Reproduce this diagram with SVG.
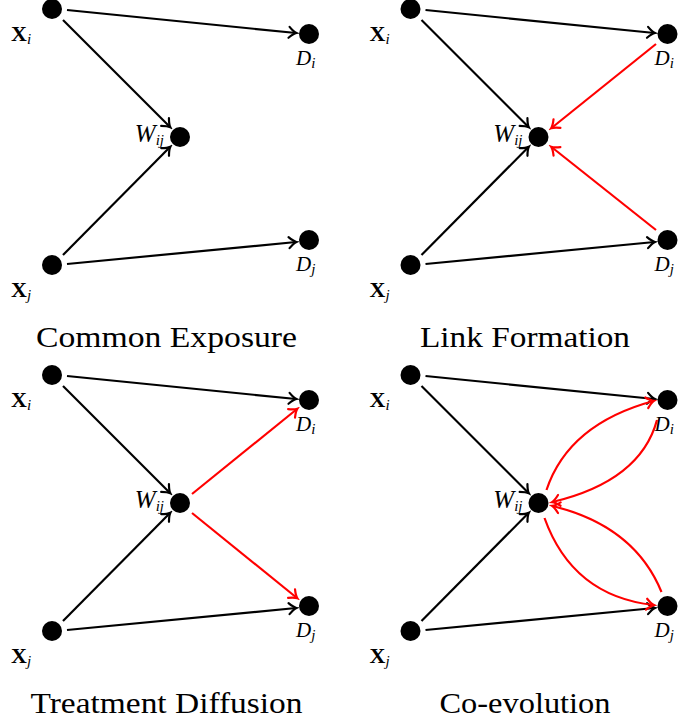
<svg xmlns="http://www.w3.org/2000/svg" width="678" height="726" viewBox="0 0 678 726">
<style>
.node{fill:#000}
.e{fill:none;stroke:#000;stroke-width:2.2;marker-end:url(#ab)}
.r{fill:none;stroke:#ff0000;stroke-width:2.2;marker-end:url(#ar)}
.lb{font-family:"Liberation Serif","Times New Roman","DejaVu Serif",serif;font-size:21px;fill:#000}
.bf{font-weight:bold;font-size:22px}
.it{font-style:italic}
.sub{font-size:15px;font-style:italic;font-weight:normal}
.cap{font-family:"Liberation Serif","Times New Roman","DejaVu Serif",serif;font-size:30px;fill:#000;text-anchor:middle}
</style>
<defs>
<marker id="ab" markerUnits="userSpaceOnUse" markerWidth="14" markerHeight="14" viewBox="-9 -7 11 14" refX="0" refY="0" orient="auto">
<path d="M-7,-5.5 Q-2.5,-1 0.5,0 Q-2.5,1 -7,5.5" fill="none" stroke="#000" stroke-width="2.2" stroke-linecap="round"/>
</marker>
<marker id="ar" markerUnits="userSpaceOnUse" markerWidth="14" markerHeight="14" viewBox="-9 -7 11 14" refX="0" refY="0" orient="auto">
<path d="M-7,-5.5 Q-2.5,-1 0.5,0 Q-2.5,1 -7,5.5" fill="none" stroke="#ff0000" stroke-width="2.2" stroke-linecap="round"/>
</marker>
<g id="base-edges">
<path class="e" d="M67,10 L296,33"/>
<path class="e" d="M63,20 L170,127"/>
<path class="e" d="M63,255 L170,147"/>
<path class="e" d="M67,264 L296,242"/>
</g>
<g id="base-labels">
<text class="lb" x="11" y="41"><tspan class="bf">X</tspan><tspan class="sub" dy="3">i</tspan></text>
<text class="lb" x="11" y="297"><tspan class="bf">X</tspan><tspan class="sub" dy="3">j</tspan></text>
<text class="lb it" x="296" y="65">D<tspan class="sub" dy="3">i</tspan></text>
<text class="lb it" x="296" y="271">D<tspan class="sub" dy="3">j</tspan></text>
<text class="lb it" x="164" y="142" text-anchor="end" style="font-size:25px">W<tspan class="sub" dy="3">ij</tspan></text>
</g>
</defs>

<!-- Panel 1: Common Exposure -->
<g id="panel-common-exposure">
<g id="p1-connectors"><use href="#base-edges"/></g>
<g id="p1-Xi"><circle class="node" cx="52" cy="9" r="10"/></g>
<g id="p1-Xj"><circle class="node" cx="52" cy="265" r="10"/></g>
<g id="p1-Wij"><circle class="node" cx="180" cy="137" r="10"/></g>
<g id="p1-Di"><circle class="node" cx="309" cy="34" r="10"/></g>
<g id="p1-Dj"><circle class="node" cx="309" cy="240" r="10"/></g>
<use href="#base-labels"/>
<text class="cap" x="166.5" y="347" textLength="261" lengthAdjust="spacingAndGlyphs">Common Exposure</text>
</g>

<!-- Panel 2: Link Formation -->
<g id="panel-link-formation" transform="translate(358.5,0)">
<g id="p2-connectors">
<use href="#base-edges"/>
<path class="r" d="M297.5,44 L193,128"/>
<path class="r" d="M297.5,230 L193,147"/>
</g>
<g id="p2-Xi"><circle class="node" cx="52" cy="9" r="10"/></g>
<g id="p2-Xj"><circle class="node" cx="52" cy="265" r="10"/></g>
<g id="p2-Wij"><circle class="node" cx="180" cy="137" r="10"/></g>
<g id="p2-Di"><circle class="node" cx="309" cy="34" r="10"/></g>
<g id="p2-Dj"><circle class="node" cx="309" cy="240" r="10"/></g>
<use href="#base-labels"/>
<text class="cap" x="166.5" y="347" textLength="210" lengthAdjust="spacingAndGlyphs">Link Formation</text>
</g>

<!-- Panel 3: Treatment Diffusion -->
<g id="panel-treatment-diffusion" transform="translate(0,366)">
<g id="p3-connectors">
<use href="#base-edges"/>
<path class="r" d="M192,128 L297,43"/>
<path class="r" d="M192,147 L297,232"/>
</g>
<g id="p3-Xi"><circle class="node" cx="52" cy="9" r="10"/></g>
<g id="p3-Xj"><circle class="node" cx="52" cy="265" r="10"/></g>
<g id="p3-Wij"><circle class="node" cx="180" cy="137" r="10"/></g>
<g id="p3-Di"><circle class="node" cx="309" cy="34" r="10"/></g>
<g id="p3-Dj"><circle class="node" cx="309" cy="240" r="10"/></g>
<use href="#base-labels"/>
<text class="cap" x="166.5" y="347" textLength="272" lengthAdjust="spacingAndGlyphs">Treatment Diffusion</text>
</g>

<!-- Panel 4: Co-evolution -->
<g id="panel-co-evolution" transform="translate(358.5,366)">
<g id="p4-connectors">
<use href="#base-edges"/>
<path class="r" d="M188,124 Q210,58 295,35"/>
<path class="r" d="M298.5,54 Q282,115 194,136"/>
<path class="r" d="M303,226 Q276,160 194,140"/>
<path class="r" d="M186,152 Q214,230 295,239"/>
</g>
<g id="p4-Xi"><circle class="node" cx="52" cy="9" r="10"/></g>
<g id="p4-Xj"><circle class="node" cx="52" cy="265" r="10"/></g>
<g id="p4-Wij"><circle class="node" cx="180" cy="137" r="10"/></g>
<g id="p4-Di"><circle class="node" cx="309" cy="34" r="10"/></g>
<g id="p4-Dj"><circle class="node" cx="309" cy="240" r="10"/></g>
<use href="#base-labels"/>
<text class="cap" x="166.5" y="347" textLength="171" lengthAdjust="spacingAndGlyphs">Co-evolution</text>
</g>
</svg>
